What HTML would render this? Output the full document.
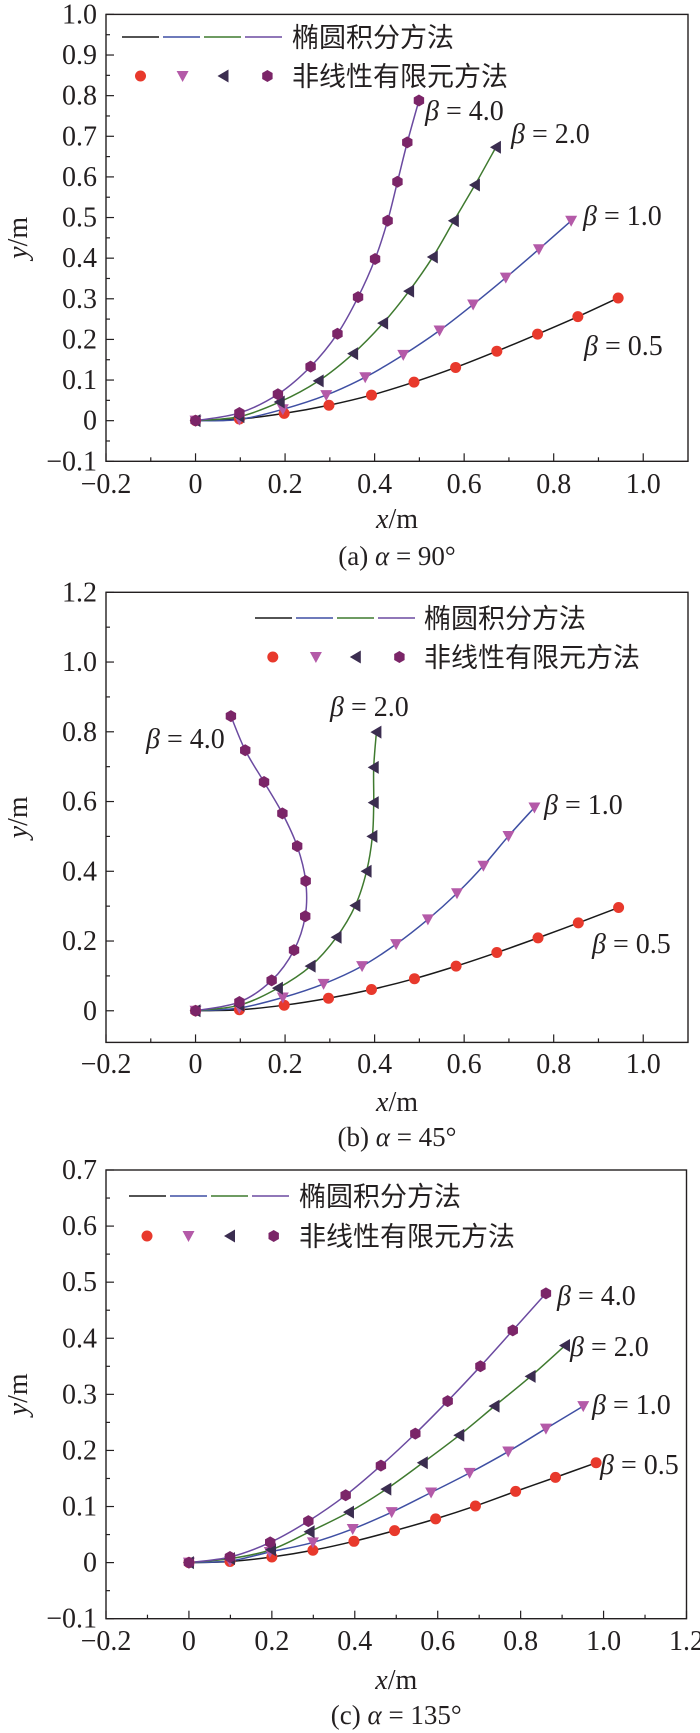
<!DOCTYPE html>
<html><head><meta charset="utf-8">
<style>
html,body{margin:0;padding:0;background:#fff;}
svg{display:block;}
text{font-family:"Liberation Serif","Noto Serif CJK SC",serif;fill:#231f20;}
.cjk{font-family:"Liberation Sans","Noto Sans CJK SC",sans-serif;}
</style></head>
<body>
<svg id="chart" width="700" height="1733" viewBox="0 0 700 1733" xmlns="http://www.w3.org/2000/svg"></svg>
<script>
// ---- data: panel (a) alpha = 90°
const aX05=[0,0.098,0.198,0.298,0.393,0.488,0.581,0.673,0.764,0.854,0.944];
const aY05=[0,0.004,0.018,0.038,0.063,0.095,0.131,0.171,0.213,0.256,0.302];
const aX10=[0,0.098,0.195,0.292,0.379,0.464,0.545,0.620,0.693,0.767,0.839];
const aY10=[0,0.003,0.028,0.063,0.107,0.162,0.222,0.286,0.352,0.422,0.492];
const aX20=[0,0.098,0.188,0.275,0.352,0.419,0.477,0.530,0.577,0.624,0.671];
const aY20=[0,0.010,0.046,0.098,0.165,0.240,0.319,0.403,0.492,0.580,0.673];
const aX40=[0,0.098,0.184,0.257,0.317,0.363,0.401,0.429,0.451,0.473,0.499];
const aY40=[0,0.019,0.065,0.133,0.214,0.304,0.398,0.492,0.588,0.685,0.788];
// ---- data: panel (b) alpha = 45°
const bX05=[0,0.098,0.198,0.297,0.393,0.489,0.582,0.673,0.765,0.855,0.945];
const bY05=[0,0.003,0.016,0.036,0.061,0.092,0.128,0.167,0.209,0.252,0.296];
const bX10=[0,0.098,0.195,0.286,0.372,0.448,0.519,0.584,0.643,0.699,0.757];
const bY10=[0,0.008,0.038,0.077,0.128,0.191,0.262,0.337,0.416,0.501,0.583];
const bX20=[0,0.098,0.184,0.257,0.315,0.357,0.382,0.395,0.398,0.398,0.404];
const bY20=[0,0.016,0.065,0.128,0.211,0.302,0.400,0.500,0.597,0.698,0.799];
const bX40=[0,0.098,0.170,0.220,0.245,0.246,0.227,0.194,0.153,0.111,0.079];
const bY40=[0,0.025,0.087,0.174,0.271,0.372,0.472,0.566,0.656,0.747,0.845];
// ---- data: panel (c) alpha = 135°
const cX05=[0,0.099,0.200,0.299,0.398,0.496,0.595,0.691,0.788,0.884,0.982];
const cY05=[0,0.002,0.010,0.022,0.038,0.057,0.078,0.101,0.127,0.152,0.178];
const cX10=[0,0.099,0.195,0.299,0.395,0.489,0.584,0.677,0.770,0.861,0.951];
const cY10=[0,0.003,0.019,0.036,0.060,0.090,0.125,0.160,0.198,0.239,0.279];
const cX20=[0,0.099,0.198,0.291,0.386,0.476,0.564,0.652,0.737,0.824,0.907];
const cY20=[0,0.007,0.023,0.055,0.090,0.131,0.178,0.227,0.279,0.332,0.387];
const cX40=[0,0.099,0.196,0.288,0.378,0.463,0.546,0.624,0.703,0.781,0.861];
const cY40=[0,0.010,0.036,0.074,0.120,0.173,0.230,0.288,0.350,0.414,0.480];
const betaValues=["0.5","1.0","2.0","4.0"];
const aXTicks=[-0.2,0,0.2,0.4,0.6,0.8,1.0];
const aXTickLabels=["−0.2","0","0.2","0.4","0.6","0.8","1.0"];
const aYTicks=[-0.1,0,0.1,0.2,0.3,0.4,0.5,0.6,0.7,0.8,0.9,1.0];
const aYTickLabels=["−0.1","0","0.1","0.2","0.3","0.4","0.5","0.6","0.7","0.8","0.9","1.0"];
const bYTicks=[0,0.2,0.4,0.6,0.8,1.0,1.2];
const bYTickLabels=["0","0.2","0.4","0.6","0.8","1.0","1.2"];
const cXTicks=[-0.2,0,0.2,0.4,0.6,0.8,1.0,1.2];
const cXTickLabels=["−0.2","0","0.2","0.4","0.6","0.8","1.0","1.2"];
const cYTicks=[-0.1,0,0.1,0.2,0.3,0.4,0.5,0.6,0.7];
const cYTickLabels=["−0.1","0","0.1","0.2","0.3","0.4","0.5","0.6","0.7"];

const NS="http://www.w3.org/2000/svg";
const svg=document.getElementById('chart');
const lineColors=["#1a1a1a","#3f4fa3","#3f7a2f","#6b4aa0"];
const markColors=["#e8392c","#b45aa8","#3b2d50","#7b2568"];
function mk(tag,attrs,parent){const e=document.createElementNS(NS,tag);for(const k in attrs)e.setAttribute(k,attrs[k]);(parent||svg).appendChild(e);return e;}
function smoothPath(pts){
  let d="M"+pts[0][0]+","+pts[0][1];
  for(let i=0;i<pts.length-1;i++){
    const p0=pts[i-1]||pts[i],p1=pts[i],p2=pts[i+1],p3=pts[i+2]||p2;
    const c1=[p1[0]+(p2[0]-p0[0])/6,p1[1]+(p2[1]-p0[1])/6];
    const c2=[p2[0]-(p3[0]-p1[0])/6,p2[1]-(p3[1]-p1[1])/6];
    d+=" C"+c1[0]+","+c1[1]+" "+c2[0]+","+c2[1]+" "+p2[0]+","+p2[1];
  }
  return d;
}
function marker(g,type,cx,cy,color){
  let e;
  if(type===0){e=mk('circle',{cx:cx,cy:cy,r:5.5,fill:color},g);}
  else if(type===1){e=mk('polygon',{points:(cx-6)+","+(cy-5)+" "+(cx+6)+","+(cy-5)+" "+cx+","+(cy+6),fill:color},g);}
  else if(type===2){e=mk('polygon',{points:(cx-6)+","+cy+" "+(cx+5)+","+(cy-6.5)+" "+(cx+5)+","+(cy+6.5),fill:color},g);}
  else {let p=[];for(let k=0;k<6;k++){const a=Math.PI/3*k+Math.PI/6;p.push((cx+6*Math.cos(a))+","+(cy+6*Math.sin(a)));}e=mk('polygon',{points:p.join(" "),fill:color},g);}
  
  
  return e;
}
function panel(cfg){
  const g=mk('g',{});
  
  
  const sx=v=>cfg.x0+(v-cfg.xmin)*(cfg.x1-cfg.x0)/(cfg.xmax-cfg.xmin);
  const sy=v=>cfg.y0-(v-cfg.ymin)*(cfg.y0-cfg.y1)/(cfg.ymax-cfg.ymin);
  const frame=mk('rect',{x:cfg.x0,y:cfg.y1,width:cfg.x1-cfg.x0,height:cfg.y0-cfg.y1,fill:"none",stroke:"#231f20","stroke-width":1.4},g);
  
  const xstep=cfg.xTicks[1]-cfg.xTicks[0];
  cfg.xTicks.forEach((t,i)=>{
    const x=sx(t);
    mk('line',{x1:x,y1:cfg.y0,x2:x,y2:cfg.y0-8,stroke:"#231f20","stroke-width":1.2},g);
    const xm=sx(t+xstep/2); if(t+xstep/2<cfg.xmax) mk('line',{x1:xm,y1:cfg.y0,x2:xm,y2:cfg.y0-4,stroke:"#231f20","stroke-width":1.2},g);
    const lb=mk('text',{x:x,y:cfg.xLabelY,"text-anchor":"middle","font-size":28},g);lb.textContent=cfg.xTickLabels[i];
    
  });
  const ystep=cfg.yTicks[1]-cfg.yTicks[0];
  cfg.yTicks.forEach((t,i)=>{
    const y=sy(t);
    mk('line',{x1:cfg.x0,y1:y,x2:cfg.x0+8,y2:y,stroke:"#231f20","stroke-width":1.2},g);
    if(t+ystep/2<cfg.ymax) {const ym=sy(t+ystep/2);mk('line',{x1:cfg.x0,y1:ym,x2:cfg.x0+4,y2:ym,stroke:"#231f20","stroke-width":1.2},g);}
    const lb=mk('text',{x:97,y:y+9,"text-anchor":"end","font-size":28},g);lb.textContent=cfg.yTickLabels[i];
    
  });
  const yt=mk('text',{x:0,y:0,"text-anchor":"middle","font-size":28,transform:"translate(27,"+((cfg.y0+cfg.y1)/2)+") rotate(-90)"},g);
  yt.innerHTML='<tspan font-style="italic">y</tspan>/m';
  
  const xt=mk('text',{x:(cfg.x0+cfg.x1)/2,y:cfg.xTitleY,"text-anchor":"middle","font-size":28},g);
  xt.innerHTML='<tspan font-style="italic">x</tspan>/m';
  
  const cap=mk('text',{x:(cfg.x0+cfg.x1)/2,y:cfg.capY,"text-anchor":"middle","font-size":27},g);
  cap.innerHTML=cfg.caption+' <tspan font-style="italic">α</tspan> = '+cfg.angle+'°';
  
  cfg.series.forEach((s,k)=>{
    const pts=s[0].map((v,i)=>[sx(v),sy(s[1][i])]);
    const p=mk('path',{d:smoothPath(pts),fill:"none",stroke:lineColors[k],"stroke-width":1.5},g);
    
    
  });
  cfg.series.forEach((s,k)=>{
    s[0].forEach((v,i)=>marker(g,k,sx(v),sy(s[1][i]),markColors[k]));
  });
  cfg.labels.forEach((l,k)=>{
    const t=mk('text',{x:l[0],y:l[1]+10,"font-size":28},g);
    t.innerHTML='<tspan font-style="italic">β</tspan> = '+betaValues[k];
    
  });
  const lg=mk('g',{},g);
  
  const L=cfg.legend;
  for(let k=0;k<4;k++){
    const x=L.lx+k*41;
    mk('line',{x1:x,y1:L.ly,x2:x+37,y2:L.ly,stroke:lineColors[k],"stroke-width":1.5},lg);
    marker(lg,k,L.mx[k],L.my,markColors[k]);
  }
  const t1=mk('text',{x:L.tx,y:L.ly+10,"font-size":27,class:"cjk"},lg);t1.textContent="椭圆积分方法";
  
  const t2=mk('text',{x:L.tx,y:L.my+10,"font-size":27,class:"cjk"},lg);t2.textContent="非线性有限元方法";
  
}
panel({name:'panel-a-alpha-90',x0:106,x1:688,y0:461.3,y1:14.4,xmin:-0.2,xmax:1.1,ymin:-0.1,ymax:1.0,
  xTicks:aXTicks,xTickLabels:aXTickLabels,yTicks:aYTicks,yTickLabels:aYTickLabels,
  xLabelY:493,xTitleY:528,capY:565,caption:'(a)',angle:'90',
  series:[[aX05,aY05],[aX10,aY10],[aX20,aY20],[aX40,aY40]],
  labels:[[584,345],[583,215],[511,133],[425,110]],
  legend:{lx:122,ly:37,mx:[140.5,182.6,223.5,267.4],my:76,tx:292}});
panel({name:'panel-b-alpha-45',x0:106,x1:688,y0:1042.4,y1:592.3,xmin:-0.2,xmax:1.1,ymin:-0.0907,ymax:1.2,
  xTicks:aXTicks,xTickLabels:aXTickLabels,yTicks:bYTicks,yTickLabels:bYTickLabels,
  xLabelY:1073,xTitleY:1111,capY:1146,caption:'(b)',angle:'45',
  series:[[bX05,bY05],[bX10,bY10],[bX20,bY20],[bX40,bY40]],
  labels:[[592,943],[544,804],[330,706],[146,738]],
  legend:{lx:255,ly:618,mx:[272.8,315.9,355.8,399.4],my:657,tx:424}});
panel({name:'panel-c-alpha-135',x0:106,x1:686.5,y0:1618.7,y1:1170,xmin:-0.2,xmax:1.2,ymin:-0.1,ymax:0.7,
  xTicks:cXTicks,xTickLabels:cXTickLabels,yTicks:cYTicks,yTickLabels:cYTickLabels,
  xLabelY:1650,xTitleY:1689,capY:1724,caption:'(c)',angle:'135',
  series:[[cX05,cY05],[cX10,cY10],[cX20,cY20],[cX40,cY40]],
  labels:[[600,1464],[592,1404],[570,1346],[557,1295]],
  legend:{lx:129,ly:1196,mx:[147,188.5,230,273.7],my:1236,tx:299}});
</script>
</body></html>
